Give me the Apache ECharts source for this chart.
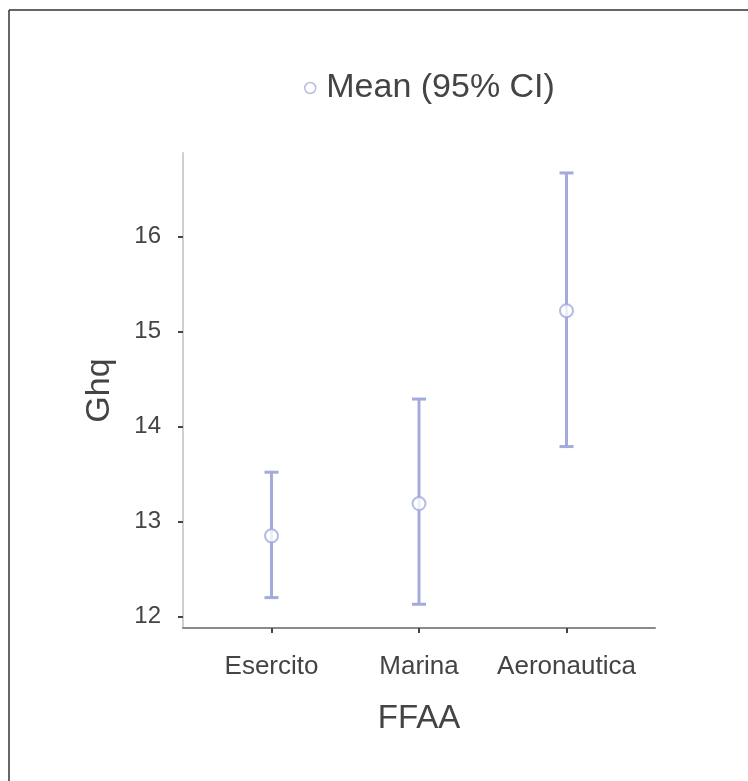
<!DOCTYPE html>
<html>
<head>
<meta charset="utf-8">
<script src="https://cdn.jsdelivr.net/npm/echarts@6/dist/echarts.min.js"></script>
<style>
  html, body { margin: 0; padding: 0; background: #fff; }
  #chart { width: 748px; height: 781px; }
</style>
</head>
<body>
<div id="chart"></div>
<script>
// Group means of Ghq by armed force with 95% confidence intervals
const categories = ['Esercito', 'Marina', 'Aeronautica'];
const means = [12.85, 13.19, 15.22];
const ciLower = [12.20, 12.13, 13.79];
const ciUpper = [13.52, 14.29, 16.67];
const yTicks = [12, 13, 14, 15, 16];

const barColor = '#a3aadc';
const textColor = '#444';
const fontFamily = '"Liberation Sans", Arial, sans-serif';

const chart = echarts.init(document.getElementById('chart'), null, { renderer: 'canvas' });

const xIdx = categories.map((_, i) => i);
const intervalData = categories.map((_, i) => [i, ciLower[i], ciUpper[i]]);
const meanData = categories.map((_, i) => [i, means[i]]);

chart.setOption({
  backgroundColor: '#fff',
  animation: false,
  textStyle: { fontFamily: fontFamily, color: textColor },
  graphic: [
    // frame lines along the top and left edges
    { type: 'line', shape: { x1: 9, y1: 10, x2: 748, y2: 10 }, style: { stroke: '#333', lineWidth: 1.5 } },
    { type: 'line', shape: { x1: 9, y1: 10, x2: 9, y2: 781 }, style: { stroke: '#333', lineWidth: 1.5 } }
  ],
  legend: {
    left: 299,
    top: 66,
    itemWidth: 22,
    itemHeight: 11,
    data: [{ name: 'Mean (95% CI)', icon: 'circle' }],
    itemStyle: { color: '#fff', borderColor: barColor, borderWidth: 1.5 },
    textStyle: { fontSize: 34, color: textColor, fontFamily: fontFamily }
  },
  grid: { left: 183, right: 93, top: 153, bottom: 153 },
  xAxis: {
    type: 'value',
    min: -0.6,
    max: 2.6,
    name: 'FFAA',
    nameLocation: 'middle',
    nameGap: 74,
    nameTextStyle: { fontSize: 33, color: textColor, fontFamily: fontFamily },
    splitLine: { show: false },
    axisLine: { show: true, onZero: false, lineStyle: { color: '#8a8a8a', width: 2 } },
    axisTick: { show: true, customValues: xIdx, length: 5, lineStyle: { color: '#444', width: 2 } },
    axisLabel: {
      customValues: xIdx,
      margin: 26,
      fontSize: 26,
      color: textColor,
      formatter: v => categories[Math.round(v)]
    }
  },
  yAxis: {
    type: 'value',
    min: 11.88,
    max: 16.88,
    name: 'Ghq',
    nameLocation: 'middle',
    nameGap: 66,
    nameTextStyle: { fontSize: 34, color: textColor, fontFamily: fontFamily },
    splitLine: { show: false },
    axisLine: { show: true, onZero: false, lineStyle: { color: '#cfcfcf', width: 2 } },
    axisTick: { show: true, customValues: yTicks, length: 5, lineStyle: { color: '#444', width: 2 } },
    axisLabel: {
      customValues: yTicks,
      margin: 22,
      fontSize: 24,
      color: textColor
    }
  },
  series: [
    {
      type: 'custom',
      name: 'CI',
      silent: true,
      z: 2,
      renderItem: function (params, api) {
        const x = api.value(0);
        const lo = api.coord([x, api.value(1)]);
        const hi = api.coord([x, api.value(2)]);
        const half = 7;
        const style = { stroke: barColor, lineWidth: 3 };
        return {
          type: 'group',
          children: [
            { type: 'line', shape: { x1: lo[0], y1: lo[1], x2: hi[0], y2: hi[1] }, style: style },
            { type: 'line', shape: { x1: lo[0] - half, y1: lo[1], x2: lo[0] + half, y2: lo[1] }, style: style },
            { type: 'line', shape: { x1: hi[0] - half, y1: hi[1], x2: hi[0] + half, y2: hi[1] }, style: style }
          ]
        };
      },
      encode: { x: 0, y: [1, 2] },
      data: intervalData
    },
    {
      type: 'scatter',
      name: 'Mean (95% CI)',
      symbol: 'circle',
      symbolSize: 13,
      z: 3,
      itemStyle: { color: '#fff', borderColor: barColor, borderWidth: 2 },
      data: meanData
    }
  ]
});
</script>
</body>
</html>
